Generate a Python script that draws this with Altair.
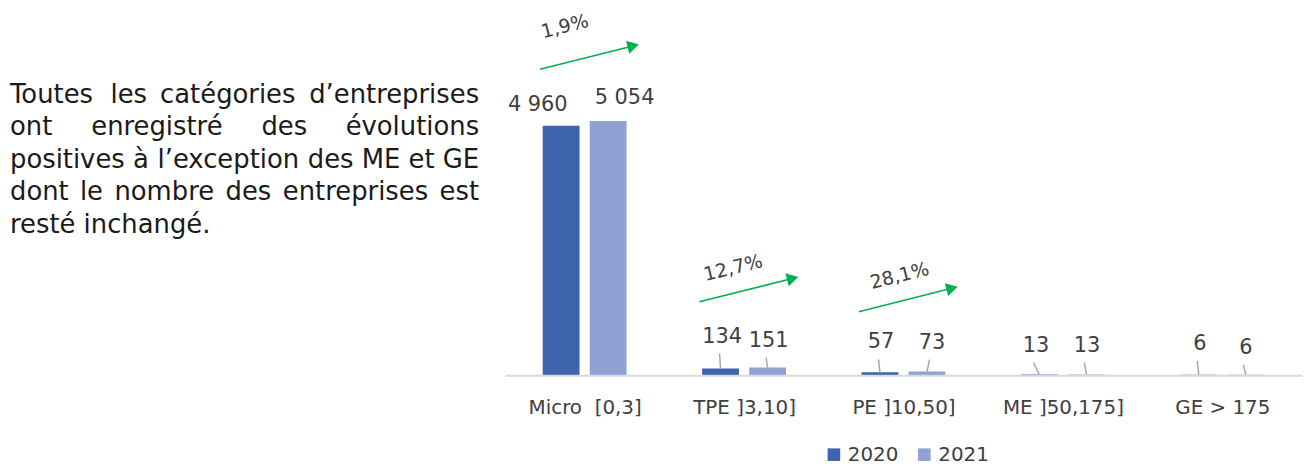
import altair as alt
import pandas as pd

# ---------------- data ----------------
categories = ["Micro \u00a0[0,3]", "TPE ]3,10]", "PE ]10,50]", "ME ]50,175]", "GE > 175"]
years = ["2020", "2021"]
values_2020 = [4960, 134, 57, 13, 6]
values_2021 = [5054, 151, 73, 13, 6]

paragraph_lines = [
    "Toutes les catégories d’entreprises",
    "ont enregistré des évolutions",
    "positives à l’exception des ME et GE",
    "dont le nombre des entreprises est",
    "resté inchangé.",
]

# ---------------- layout ----------------
W, H = 802, 360
PAD = {"left": 500, "top": 8, "right": 4, "bottom": 92}
X_MAX = len(categories)
Y_MAX = 7114
XPX = W / X_MAX          # px per x unit
YPU = Y_MAX / H          # y units per px
BAR_W, BAR_GAP = 0.231, 0.064
bar_left = {"2020": 0.5 - BAR_GAP / 2 - BAR_W, "2021": 0.5 + BAR_GAP / 2}
# label nudges in px (dx from bar centre, lift above bar top)
label_dx = {"2020": [-23.5, 1.5, 1, -3.5, 1], "2021": [16.5, 1, 5, 0.5, 0]}
label_lift = {"2020": [21, 32, 30, 29, 31], "2021": [23, 27, 29, 29, 27]}
arrow_lift = [29, 35, 31]                 # px above highest label
rate_nudge = [(25, 43), (34, 34), (41, 36)]  # px from arrow start
FONT = "DejaVu Sans"
TXT = "#404040"
GREEN = "#00b050"

# ---------------- tables ----------------
vals = {"2020": values_2020, "2021": values_2021}
rows, labels, leaders = [], [], []
for yr in years:
    for i, v in enumerate(vals[yr]):
        x0 = i + bar_left[yr]
        cx = x0 + BAR_W / 2
        rows.append({"year": yr, "x0": x0, "x1": x0 + BAR_W, "value": v})
        lx = cx + label_dx[yr][i] / XPX
        ly = v + label_lift[yr][i] * YPU
        labels.append({"x": lx, "y": ly, "text": f"{v:,}".replace(",", " ")})
        if v < 1000:
            leaders.append({"x": lx - 2.5 / XPX, "y": ly - 17 * YPU, "x2": cx, "y2": v})
bars_df = pd.DataFrame(rows)
labels_df = pd.DataFrame(labels)
leaders_df = pd.DataFrame(leaders)

arrows, heads, rates = [], [], []
k = 0
for i, (a, b) in enumerate(zip(values_2020, values_2021)):
    g = (b - a) / a * 100
    if g <= 0:
        continue
    top_label = max(a + label_lift["2020"][i] * YPU, b + label_lift["2021"][i] * YPU)
    sx, sy = i + 0.22, top_label + arrow_lift[k] * YPU
    ex, ey = i + 0.84, sy + 25 * YPU
    h = 5.8
    arrows.append({"x": sx, "y": sy, "x2": ex - 3 / XPX, "y2": ey - 0.75 * YPU})
    heads.append({"x": ex - h * 0.970 / XPX, "y": ey - h * 0.2425 * YPU})
    dx, dy = rate_nudge[k]
    rates.append({"x": sx + dx / XPX, "y": sy + dy * YPU,
                  "text": f"{g:.1f}".replace(".", ",") + "%"})
    k += 1
arrows_df, heads_df, rates_df = pd.DataFrame(arrows), pd.DataFrame(heads), pd.DataFrame(rates)

# justified paragraph (approximate DejaVu Sans advance widths, em)
CW = {" ": .318, "a": .613, "b": .635, "c": .55, "d": .635, "e": .615, "f": .352, "g": .635,
      "h": .634, "i": .278, "l": .278, "m": .974, "n": .634, "o": .612, "p": .635, "r": .411,
      "s": .521, "t": .392, "u": .634, "v": .592, "x": .592, "é": .615, "à": .613, "’": .318,
      "T": .611, "M": .862, "E": .632, "G": .775, ".": .318}
PSIZE = 26
def tw(s):
    return sum(CW.get(ch, .6) for ch in s) * PSIZE
LEFT, RIGHT = 10 - 508, 482 - 508
baselines = [102, 134.7, 167.4, 200.1, 232.8]
para = []
for li, line in enumerate(paragraph_lines):
    yv = (376 - baselines[li]) * YPU
    words = line.split()
    if li == len(paragraph_lines) - 1:
        para.append({"t": line, "x": LEFT / XPX, "y": yv, "al": "left"})
        continue
    ws = [tw(w) for w in words]
    gap = (RIGHT - LEFT - sum(ws)) / (len(words) - 1)
    pos = LEFT
    for wi, (w, wd) in enumerate(zip(words, ws)):
        if wi == 0:
            para.append({"t": w, "x": LEFT / XPX, "y": yv, "al": "left"})
        elif wi == len(words) - 1:
            para.append({"t": w, "x": RIGHT / XPX, "y": yv, "al": "right"})
        else:
            para.append({"t": w, "x": (pos + wd / 2) / XPX, "y": yv, "al": "center"})
        pos += wd + gap
para_df = pd.DataFrame(para)

# ---------------- chart ----------------
xs = alt.Scale(domain=[0, X_MAX], nice=False, zero=False)
ys = alt.Scale(domain=[0, Y_MAX], nice=False)
label_expr = "[" + ",".join("'" + c + "'" for c in categories) + "][floor(datum.value)]"

bars = alt.Chart(bars_df).mark_bar().encode(
    x=alt.X("x0:Q", scale=xs, axis=alt.Axis(
        values=[i + 0.5 for i in range(X_MAX)], labelExpr=label_expr, title=None,
        ticks=False, grid=False, domainColor="#d9d9d9", domainWidth=2,
        labelFontSize=20, labelFont=FONT, labelColor=TXT, labelPadding=23,
        labelOverlap=False, labelBound=False, labelFlush=False, zindex=1)),
    x2="x1:Q",
    y=alt.Y("value:Q", scale=ys, axis=None),
    y2=alt.datum(0),
    color=alt.Color("year:N", scale=alt.Scale(domain=years, range=["#3d64ad", "#8fa2d3"]),
                    legend=alt.Legend(orient="none", legendX=321, legendY=430,
                                      direction="horizontal", title=None,
                                      symbolType="square", symbolSize=160,
                                      symbolStrokeWidth=0, labelFontSize=20,
                                      labelFont=FONT, labelColor=TXT,
                                      columnPadding=16, labelOffset=4, padding=0)),
)

value_labels = alt.Chart(labels_df).mark_text(
    fontSize=21, font=FONT, color=TXT, baseline="middle", align="center"
).encode(x=alt.X("x:Q", scale=xs), y=alt.Y("y:Q", scale=ys), text="text:N")

leader_rules = alt.Chart(leaders_df).mark_rule(color="#a6a6a6", strokeWidth=1.5).encode(
    x=alt.X("x:Q", scale=xs), y=alt.Y("y:Q", scale=ys), x2="x2:Q", y2="y2:Q")

arrow_lines = alt.Chart(arrows_df).mark_rule(color=GREEN, strokeWidth=1.6).encode(
    x=alt.X("x:Q", scale=xs), y=alt.Y("y:Q", scale=ys), x2="x2:Q", y2="y2:Q")

arrow_heads = alt.Chart(heads_df).mark_point(
    shape="triangle-right", filled=True, size=180, angle=346, color=GREEN, opacity=1,
    strokeWidth=0
).encode(x=alt.X("x:Q", scale=xs), y=alt.Y("y:Q", scale=ys))

rate_labels = alt.Chart(rates_df).mark_text(
    fontSize=19, font=FONT, color=TXT, angle=346, baseline="middle", align="center"
).encode(x=alt.X("x:Q", scale=xs), y=alt.Y("y:Q", scale=ys), text="text:N")

def para_layer(al):
    return alt.Chart(para_df).transform_filter(alt.datum.al == al).mark_text(
        fontSize=PSIZE, font=FONT, color="#1a1a1a", baseline="alphabetic", align=al
    ).encode(x=alt.X("x:Q", scale=xs), y=alt.Y("y:Q", scale=ys), text="t:N")

chart = alt.layer(
    bars, leader_rules, value_labels, arrow_lines, arrow_heads, rate_labels,
    para_layer("left"), para_layer("center"), para_layer("right"),
).properties(
    width=W, height=H, padding=PAD, autosize=alt.AutoSizeParams(type="none"),
    background="white",
).configure_view(stroke=None)

chart.save("out.html", embed_options={"renderer": "svg", "actions": False})
